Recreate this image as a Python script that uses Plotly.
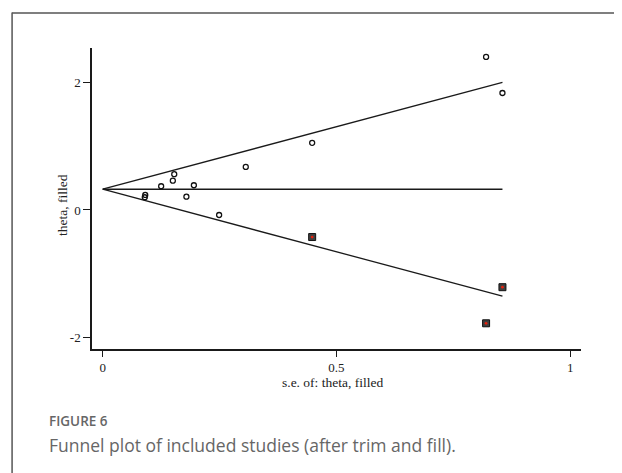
import plotly.graph_objects as go

# observed studies (hollow circles)
se_obs = [0.820, 0.855, 0.448, 0.306, 0.153, 0.150, 0.125, 0.195, 0.091, 0.090, 0.179, 0.249]
theta_obs = [2.405, 1.838, 1.055, 0.677, 0.562, 0.461, 0.373, 0.389, 0.236, 0.200, 0.209, -0.079]

# imputed studies (filled squares)
se_fill = [0.448, 0.855, 0.820]
theta_fill = [-0.425, -1.213, -1.780]

# pooled estimate and pseudo 95% limits (endpoints)
se_line = [0.0, 0.855]
theta_pooled = [0.326, 0.326]
upper_line = [0.326, 2.005]
lower_line = [0.326, -1.354]

x_ticks = [0, 0.5, 1]
x_tick_text = ["0", "0.5", "1"]
y_ticks = [-2, 0, 2]
y_tick_text = ["-2", "0", "2"]

serif = "Liberation Serif, Times New Roman, serif"
line_col = "#1a1a1a"

fig = go.Figure()
for yv in (upper_line, theta_pooled, lower_line):
    fig.add_trace(go.Scatter(x=se_line, y=yv, mode="lines",
                             line=dict(color=line_col, width=1.3),
                             hoverinfo="skip", showlegend=False))

fig.add_trace(go.Scatter(x=se_obs, y=theta_obs, mode="markers",
                         marker=dict(symbol="circle-open", size=5,
                                     color="#111", line=dict(width=1.3)),
                         showlegend=False))
fig.add_trace(go.Scatter(x=se_fill, y=theta_fill, mode="markers",
                         marker=dict(symbol="square", size=7, color="#404040",
                                     line=dict(color="#111", width=1)),
                         showlegend=False))
fig.add_trace(go.Scatter(x=se_fill, y=theta_fill, mode="markers",
                         marker=dict(symbol="circle", size=2.8, color="#e8200c"),
                         showlegend=False))

OFF = 8  # default page body margin
W, H = 622 - OFF, 473 - OFF
L, R, T, B = 92 - OFF, 581.5 - OFF, 48 - OFF, 349 - OFF
pw, ph = R - L, B - T

def px(x):
    return (x - OFF - L) / pw

def py(y):
    return (B - (y - OFF)) / ph

fig.update_layout(
    width=W, height=H,
    margin=dict(l=L, r=W - R, t=T, b=H - B, pad=0),
    paper_bgcolor="white", plot_bgcolor="white",
    xaxis=dict(range=[-0.0229, 1.023], tickvals=x_ticks, ticktext=x_tick_text,
               showgrid=False, zeroline=False, showline=True,
               linecolor=line_col, linewidth=1.5, ticks="outside",
               ticklen=6, tickwidth=1.2, tickcolor=line_col,
               tickfont=dict(family=serif, size=13, color="#222")),
    yaxis=dict(range=[-2.184, 2.545], tickvals=y_ticks, ticktext=y_tick_text,
               showgrid=False, zeroline=False, showline=True,
               linecolor=line_col, linewidth=1.5, ticks="outside",
               ticklen=7, tickwidth=1.2, tickcolor=line_col,
               tickfont=dict(family=serif, size=13, color="#222")),
    annotations=[
        dict(text="s.e. of: theta, filled", xref="paper", yref="paper",
             x=px(332.8), y=py(382), xanchor="center", yanchor="middle",
             showarrow=False, font=dict(family=serif, size=13.5, color="#222")),
        dict(text="theta, filled", xref="paper", yref="paper",
             x=px(62), y=py(205), xanchor="center", yanchor="middle",
             textangle=-90, showarrow=False,
             font=dict(family=serif, size=13.5, color="#222")),
        dict(text="FIGURE 6", xref="paper", yref="paper",
             x=px(47), y=py(421), xanchor="left", yanchor="middle",
             showarrow=False,
             font=dict(family="Open Sans, sans-serif", size=13.5, color="#666",
                       weight=600)),
        dict(text="Funnel plot of included studies (after trim and fill).",
             xref="paper", yref="paper",
             x=px(47), y=py(445), xanchor="left", yanchor="middle",
             showarrow=False,
             font=dict(family="Open Sans, sans-serif", size=17.5, color="#666")),
    ],
    shapes=[
        dict(type="line", xref="paper", yref="paper",
             x0=px(12), x1=px(12), y0=py(12.5), y1=py(480),
             line=dict(color="#555", width=1.5)),
        dict(type="line", xref="paper", yref="paper",
             x0=px(12), x1=px(630), y0=py(13), y1=py(13),
             line=dict(color="#555", width=1.5)),
    ],
)

fig.write_html("out.html")
